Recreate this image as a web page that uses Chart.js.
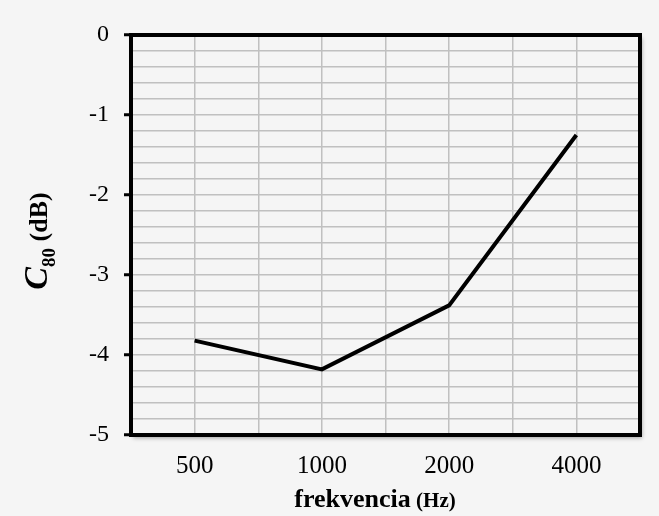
<!DOCTYPE html>
<html>
<head>
<meta charset="utf-8">
<script src="https://cdn.jsdelivr.net/npm/chart.js@4"></script>
<style>
  body { margin: 0; background: #f5f5f5; }
  #wrap { width: 659px; height: 516px; }
</style>
</head>
<body>
<div id="wrap"><canvas id="c80Chart" width="659" height="516"></canvas></div>
<script>
// --- data ---
const frequencies = ['500', '1000', '2000', '4000'];
const c80Values = [-3.82, -4.18, -3.38, -1.25];
const yTicks = [0, -1, -2, -3, -4, -5];

const serif = '"Liberation Serif", "Times New Roman", serif';
const isWhole = v => Math.abs(v - Math.round(v)) < 1e-6;

// box around the plot area + soft shadow
const frameBox = {
  id: 'frameBox',
  beforeDraw(chart) {
    const { ctx, chartArea: a } = chart;
    ctx.save();
    ctx.shadowColor = 'rgba(0,0,0,0.35)';
    ctx.shadowBlur = 4;
    ctx.shadowOffsetX = 2;
    ctx.shadowOffsetY = 3;
    ctx.fillStyle = '#f5f5f5';
    ctx.fillRect(a.left, a.top, a.right - a.left, a.bottom - a.top);
    ctx.restore();
  },
  afterDatasetsDraw(chart) {
    const { ctx, chartArea: a } = chart;
    ctx.save();
    ctx.strokeStyle = '#000';
    ctx.lineWidth = 4;
    ctx.strokeRect(a.left, a.top, a.right - a.left, a.bottom - a.top);
    ctx.restore();
  }
};

// axis titles with mixed fonts (subscript, smaller unit)
const axisTitles = {
  id: 'axisTitles',
  afterDraw(chart) {
    const { ctx, chartArea: a } = chart;
    ctx.save();
    ctx.fillStyle = '#000';
    ctx.textBaseline = 'alphabetic';
    ctx.textAlign = 'left';

    // x title
    const f1 = 'bold 26px ' + serif, f2 = 'bold 21px ' + serif;
    ctx.font = f1; const w1 = ctx.measureText('frekvencia').width;
    ctx.font = f2; const w2 = ctx.measureText(' (Hz)').width;
    let x = 375 - (w1 + w2) / 2;
    ctx.font = f1; ctx.fillText('frekvencia', x, 507);
    ctx.font = f2; ctx.fillText(' (Hz)', x + w1, 507);

    // y title, rotated
    const fc = 'italic bold 34px ' + serif, fs = 'bold 19px ' + serif, fu = 'bold 26px ' + serif;
    ctx.font = fc; const wc = ctx.measureText('C').width;
    ctx.font = fs; const ws = ctx.measureText('80').width;
    ctx.font = fu; const wu = ctx.measureText(' (dB)').width;
    ctx.translate(47, 241);
    ctx.rotate(-Math.PI / 2);
    x = -(wc + ws + wu) / 2;
    ctx.font = fc; ctx.fillText('C', x, 0);
    ctx.font = fs; ctx.fillText('80', x + wc, 8);
    ctx.font = fu; ctx.fillText(' (dB)', x + wc + ws, 0);
    ctx.restore();
  }
};

new Chart(document.getElementById('c80Chart'), {
  type: 'line',
  data: {
    datasets: [{
      data: c80Values.map((v, i) => ({ x: i, y: v })),
      borderColor: '#000',
      borderWidth: 4,
      pointRadius: 0,
      tension: 0,
      fill: false
    }]
  },
  options: {
    responsive: false,
    animation: false,
    layout: { padding: { top: 35, right: 19, left: 0, bottom: 0 } },
    plugins: { legend: { display: false }, tooltip: { enabled: false } },
    scales: {
      x: {
        type: 'linear',
        min: -0.5,
        max: 3.5,
        afterFit: s => { s.height = 81; },
        border: { display: false },
        grid: { color: '#c0c0c0', lineWidth: 1.5, drawTicks: false },
        ticks: {
          stepSize: 0.5,
          autoSkip: false,
          maxRotation: 0,
          padding: 16,
          color: '#000',
          font: { family: serif, size: 25 },
          callback: v => isWhole(v) ? (frequencies[Math.round(v)] || '') : ''
        }
      },
      y: {
        min: Math.min(...yTicks),
        max: Math.max(...yTicks),
        afterFit: s => { s.width = 131; },
        border: { display: false },
        grid: {
          color: '#c0c0c0',
          lineWidth: 1.5,
          tickLength: 7,
          tickWidth: 3,
          tickColor: c => (c.tick && isWhole(c.tick.value)) ? '#000' : 'rgba(0,0,0,0)'
        },
        ticks: {
          stepSize: 0.2,
          autoSkip: false,
          padding: 15,
          color: '#000',
          font: { family: serif, size: 24 },
          callback: v => isWhole(v) ? String(Math.round(v)) : ''
        }
      }
    }
  },
  plugins: [frameBox, axisTitles]
});
</script>
</body>
</html>
